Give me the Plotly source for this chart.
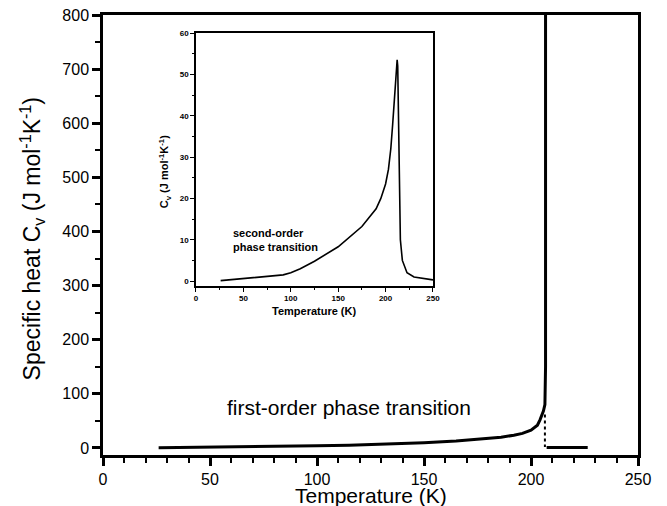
import plotly.graph_objects as go

# ---- data ----
# main panel: first-order transition curve (ends in a near-vertical spike)
T_main = [26, 50, 75, 100, 115, 130, 150, 165, 177, 186, 192, 196, 200, 203, 204.2, 205.0, 205.8, 206.5, 206.8, 206.8]
Cv_main = [0.3, 1.2, 2.2, 4.0, 5.2, 6.8, 9.8, 13, 16.6, 20, 23.5, 27, 33, 42, 52, 60, 68, 80, 150, 900]
# dotted drop at the transition
T_drop = [206.5, 206.5]
Cv_drop = [62, 2]
# high-temperature branch after the transition
T_high = [207.3, 226.5]
Cv_high = [0.8, 0.8]

# inset: second-order transition
T_in = [26, 50, 75, 92, 100, 110, 125, 150, 175, 190, 195, 200, 203, 205.5, 207.5, 209.5,
        211, 212.2, 212.8, 213.8, 214.9, 215.6, 217.7, 222.6, 230, 240, 250]
Cv_in = [0.1, 0.6, 1.1, 1.5, 2.0, 3.0, 4.8, 8.3, 13.2, 17.5, 20, 23.5, 27, 32, 38, 44,
         49, 53.5, 52, 40, 20, 10, 5, 2, 1, 0.6, 0.3]

x_ticks_main = [0, 50, 100, 150, 200, 250]
y_ticks_main = [0, 100, 200, 300, 400, 500, 600, 700, 800]
x_ticks_in = [0, 50, 100, 150, 200, 250]
y_ticks_in = [0, 10, 20, 30, 40, 50, 60]

FONT = "Arial, Liberation Sans, Helvetica, sans-serif"

fig = go.Figure()
fig.add_trace(go.Scatter(x=T_main, y=Cv_main, mode="lines",
                         line=dict(color="black", width=3), showlegend=False))
fig.add_trace(go.Scatter(x=T_drop, y=Cv_drop, mode="lines",
                         line=dict(color="black", width=2, dash="dot"), showlegend=False))
fig.add_trace(go.Scatter(x=T_high, y=Cv_high, mode="lines",
                         line=dict(color="black", width=3), showlegend=False))
fig.add_trace(go.Scatter(x=T_in, y=Cv_in, mode="lines", xaxis="x2", yaxis="y2",
                         line=dict(color="black", width=1.6), showlegend=False))

axis_common = dict(showline=True, linecolor="black", mirror=True, ticks="outside",
                   tickcolor="black", showgrid=False, zeroline=False, automargin=False,
                   ticklabeloverflow="allow")

# page body has an 8px default margin, so the figure is sized 8px smaller
fig.update_layout(
    width=659, height=498,
    margin=dict(l=95, r=29, t=7, b=51),
    paper_bgcolor="white", plot_bgcolor="white",
    font=dict(family=FONT, color="black"),
    xaxis=dict(range=[0, 250], tickvals=x_ticks_main, linewidth=2.5, tickwidth=2.5, ticklen=8,
               tickfont=dict(size=16),
               minor=dict(dtick=10, ticklen=5, tickwidth=2, ticks="outside", tickcolor="black"),
               **axis_common),
    yaxis=dict(range=[-13, 800], tickvals=y_ticks_main, linewidth=2.5, tickwidth=2.5, ticklen=8,
               tickfont=dict(size=16),
               minor=dict(dtick=50, ticklen=5, tickwidth=2, ticks="outside", tickcolor="black"),
               **axis_common),
    xaxis2=dict(domain=[0.1738, 0.6168], anchor="y2", range=[0, 250], tickvals=x_ticks_in,
                linewidth=1.5, tickwidth=1.2, ticklen=4,
                tickfont=dict(size=8, weight="bold"),
                minor=dict(dtick=25, ticklen=2, tickwidth=1, ticks="outside", tickcolor="black"),
                **axis_common),
    yaxis2=dict(domain=[0.384, 0.959], anchor="x2", range=[-1.2, 60], tickvals=y_ticks_in,
                linewidth=1.5, tickwidth=1.2, ticklen=4,
                tickfont=dict(size=8, weight="bold"),
                minor=dict(dtick=5, ticklen=2, tickwidth=1, ticks="outside", tickcolor="black"),
                **axis_common),
    annotations=[
        # axis titles
        dict(text="Temperature (K)", x=0.5, y=0, xref="paper", yref="paper",
             xanchor="center", yanchor="middle", yshift=-40, showarrow=False,
             font=dict(size=21, family=FONT)),
        dict(text="Specific heat C<sub>v</sub> (J mol<sup>-1</sup>K<sup>-1</sup>)",
             x=0, y=0.49, xref="paper", yref="paper", xanchor="center", yanchor="middle",
             xshift=-71, textangle=-90, showarrow=False, font=dict(size=23, family=FONT)),
        dict(text="Temperature (K)", x=0.3953, y=0.384, xref="paper", yref="paper",
             xanchor="center", yanchor="middle", yshift=-25, showarrow=False,
             font=dict(size=11, family=FONT, weight="bold")),
        dict(text="C<sub>v</sub> (J mol<sup>-1</sup>K<sup>-1</sup>)",
             x=0.1738, y=0.645, xref="paper", yref="paper", xanchor="center", yanchor="middle",
             xshift=-31, textangle=-90, showarrow=False,
             font=dict(size=11, family=FONT, weight="bold")),
        # in-plot labels
        dict(text="first-order phase transition", x=115, y=75, xref="x", yref="y",
             xanchor="center", yanchor="middle", showarrow=False,
             font=dict(size=21, family=FONT)),
        dict(text="second-order<br>phase transition", x=37, y=10, xref="x2", yref="y2",
             xanchor="left", yanchor="middle", showarrow=False, align="left",
             font=dict(size=11, family=FONT, weight="bold")),
    ],
)

fig.write_html("out.html")
